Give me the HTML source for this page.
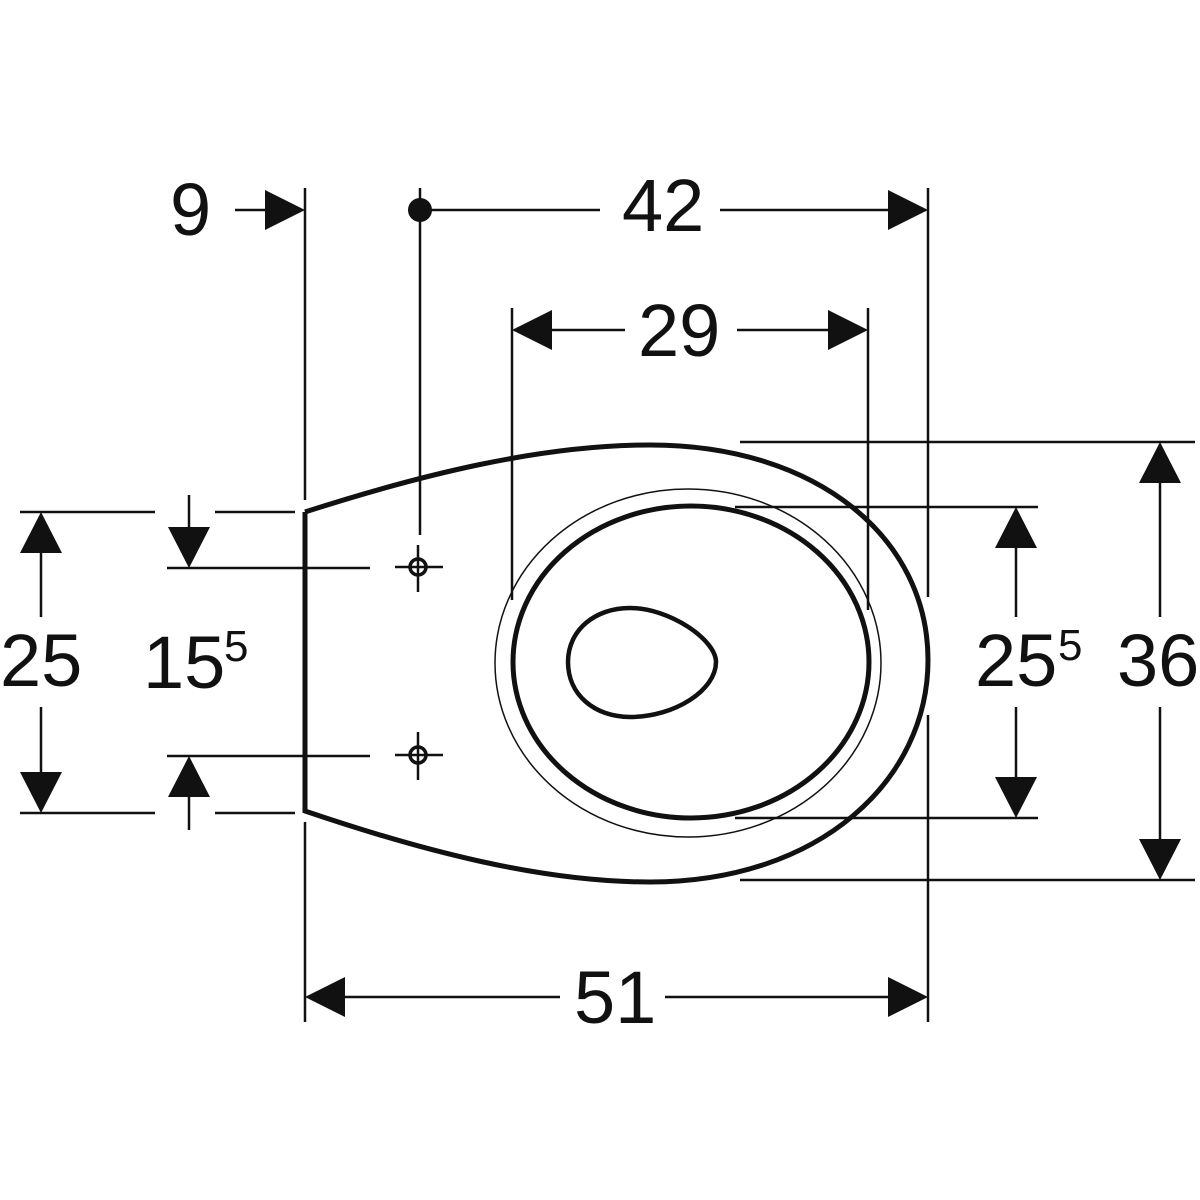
<!DOCTYPE html>
<html><head><style>html,body{margin:0;padding:0;background:#fff}svg{display:block}text{font-family:"Liberation Sans",sans-serif;font-size:74px;fill:#111}</style></head>
<body>
<svg width="1200" height="1200" viewBox="0 0 1200 1200" xmlns="http://www.w3.org/2000/svg">
<g stroke="#111" stroke-width="2.5" fill="none">
<line x1="305" y1="188" x2="305" y2="500"/>
<line x1="305" y1="822" x2="305" y2="1022"/>
<line x1="420" y1="188" x2="420" y2="535"/>
<line x1="928" y1="188" x2="928" y2="597"/>
<line x1="928" y1="715" x2="928" y2="1022"/>
<line x1="512" y1="308" x2="512" y2="600"/>
<line x1="868" y1="308" x2="868" y2="610"/>
<line x1="740" y1="442" x2="1195" y2="442"/>
<line x1="740" y1="880" x2="1195" y2="880"/>
<line x1="735" y1="507" x2="1038" y2="507"/>
<line x1="735" y1="818" x2="1038" y2="818"/>
<line x1="20" y1="512" x2="155" y2="512"/>
<line x1="215" y1="512" x2="295" y2="512"/>
<line x1="20" y1="813" x2="155" y2="813"/>
<line x1="215" y1="813" x2="295" y2="813"/>
<line x1="167" y1="568" x2="370" y2="568"/>
<line x1="167" y1="756" x2="370" y2="756"/>
<line x1="235" y1="210" x2="270" y2="210"/>
<line x1="420" y1="210" x2="600" y2="210"/>
<line x1="720" y1="210" x2="890" y2="210"/>
<line x1="550" y1="330" x2="625" y2="330"/>
<line x1="737" y1="330" x2="830" y2="330"/>
<line x1="345" y1="997" x2="560" y2="997"/>
<line x1="665" y1="997" x2="890" y2="997"/>
<line x1="41" y1="550" x2="41" y2="617"/>
<line x1="41" y1="707" x2="41" y2="775"/>
<line x1="189" y1="495" x2="189" y2="530"/>
<line x1="189" y1="795" x2="189" y2="830"/>
<line x1="1016" y1="545" x2="1016" y2="617"/>
<line x1="1016" y1="707" x2="1016" y2="780"/>
<line x1="1160" y1="482" x2="1160" y2="617"/>
<line x1="1160" y1="707" x2="1160" y2="840"/>
<line x1="395" y1="567" x2="443" y2="567"/><line x1="418" y1="545" x2="418" y2="592"/>
<line x1="395" y1="755" x2="443" y2="755"/><line x1="418" y1="732" x2="418" y2="780"/>
<circle cx="418" cy="567" r="8" stroke-width="3.5"/>
<circle cx="418" cy="755" r="8" stroke-width="3.5"/>
</g>
<g fill="none" stroke="#111" stroke-width="5">
<path d="M305,512 L305,811 C420,850 540,882 650,882 C820,882 928,780 928,660 C928,540 820,445 650,445 C540,445 420,475 305,512"/>
<ellipse cx="691" cy="662" rx="178" ry="156"/>
<path d="M568,662 C568,630 595,608 630,608 C670,608 716,640 716,662 C716,690 675,717 630,717 C595,717 568,695 568,662 Z" stroke-width="4.5"/>
</g>
<ellipse cx="688" cy="663" rx="193" ry="174" fill="none" stroke="#111" stroke-width="1.5"/>
<circle cx="420" cy="210" r="12" fill="#111"/>
<g fill="#111">
<polygon points="305,210 265,190 265,230"/>
<polygon points="928,210 888,190 888,230"/>
<polygon points="512,330 552,310 552,350"/>
<polygon points="868,330 828,310 828,350"/>
<polygon points="305,997 345,977 345,1017"/>
<polygon points="928,997 888,977 888,1017"/>
<polygon points="41,512 20,553 62,553"/>
<polygon points="41,813 20,772 62,772"/>
<polygon points="189,568 168,527 210,527"/>
<polygon points="189,756 168,797 210,797"/>
<polygon points="1016,507 995,548 1037,548"/>
<polygon points="1016,818 995,777 1037,777"/>
<polygon points="1160,442 1139,483 1181,483"/>
<polygon points="1160,880 1139,839 1181,839"/>
</g>
<text x="170" y="235">9</text>
<text x="622" y="231">42</text>
<text x="638" y="356">29</text>
<text x="574" y="1023">51</text>
<text x="0" y="686">25</text>
<text x="143" y="688">15</text><text x="224" y="661" style="font-size:44px">5</text>
<text x="975" y="686">25</text><text x="1058" y="660" style="font-size:44px">5</text>
<text x="1117" y="686">36</text>
</svg>
</body></html>
